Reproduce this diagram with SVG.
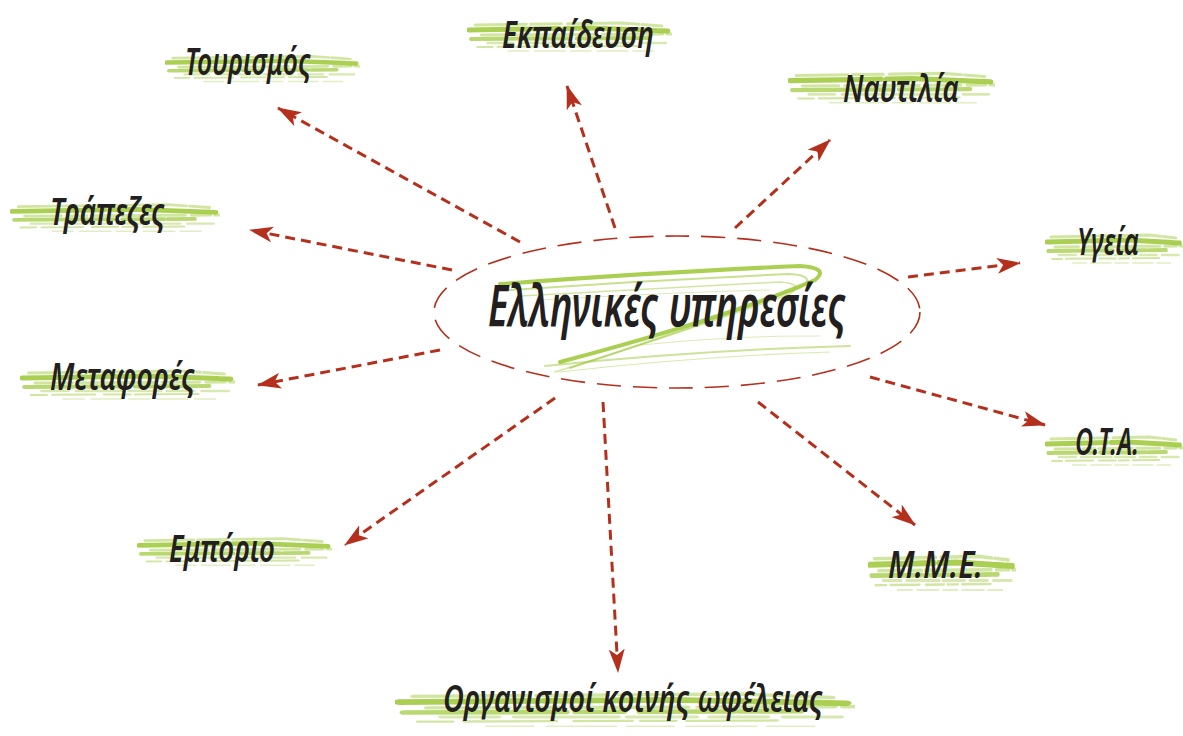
<svg xmlns="http://www.w3.org/2000/svg" width="1183" height="736" viewBox="0 0 1183 736">
<style>
.lbl{font-family:"Noto Sans","DejaVu Sans","Liberation Sans",sans-serif;font-style:italic;font-weight:600;fill:#231f20;}
.conn{fill:none;stroke:#b5301c;stroke-width:3;stroke-dasharray:10 6;}
.ell{fill:none;stroke:#b5301c;stroke-width:1.6;stroke-dasharray:24 12;}
.br{stroke:#9cc735;fill:none;stroke-linecap:round;}
</style>
<defs>
<marker id="ah" markerUnits="userSpaceOnUse" viewBox="0 0 24 16" markerWidth="24" markerHeight="16" refX="23" refY="8" orient="auto">
<path d="M0,0 L24,8 L0,16 L6,8 Z" fill="#b5301c"/>
</marker>
<symbol id="brush" viewBox="0 0 200 40" preserveAspectRatio="none">
<path class="br" d="M8 9 L150 7 L190 10" stroke-width="3" opacity="0.45" stroke-dasharray="50 4 30 6 70 3"/>
<path class="br" d="M2 14 L120 12 L196 15" stroke-width="5" opacity="0.85" stroke-dasharray="60 3 25 5 90 2"/>
<path class="br" d="M14 19 L200 18" stroke-width="3" opacity="0.45" stroke-dasharray="35 6 18 4 50 5"/>
<path class="br" d="M4 23 L176 22" stroke-width="4" opacity="0.7" stroke-dasharray="70 5 20 8 40 3"/>
<path class="br" d="M20 27 L194 27" stroke-width="2.5" opacity="0.4" stroke-dasharray="25 7 45 4 30 6"/>
<path class="br" d="M10 31 L166 30" stroke-width="2" opacity="0.45" stroke-dasharray="15 5 40 8 25 4"/>
<path class="br" d="M40 35 L186 35" stroke-width="1.5" opacity="0.3" stroke-dasharray="20 6 30 5"/>
</symbol>
</defs>
<rect width="1183" height="736" fill="#ffffff"/>

<g id="connectors">
<line class="conn" x1="520" y1="242" x2="278" y2="108" marker-end="url(#ah)"/>
<line class="conn" x1="615" y1="228" x2="567" y2="86" marker-end="url(#ah)"/>
<line class="conn" x1="735" y1="228" x2="830" y2="140" marker-end="url(#ah)"/>
<line class="conn" x1="452" y1="270" x2="250" y2="230" marker-end="url(#ah)"/>
<line class="conn" x1="908" y1="277" x2="1020" y2="263" marker-end="url(#ah)"/>
<line class="conn" x1="440" y1="350" x2="258" y2="385" marker-end="url(#ah)"/>
<line class="conn" x1="870" y1="377" x2="1045" y2="425" marker-end="url(#ah)"/>
<line class="conn" x1="555" y1="398" x2="345" y2="545" marker-end="url(#ah)"/>
<line class="conn" x1="758" y1="402" x2="915" y2="525" marker-end="url(#ah)"/>
<line class="conn" x1="603" y1="402" x2="618" y2="672" marker-end="url(#ah)"/>
</g>

<g id="center">
<ellipse class="ell" cx="677" cy="312" rx="243" ry="76"/>
<g fill="none" stroke="#9cc735" stroke-linecap="round">
<path d="M500 284 Q660 272 800 266 Q830 268 815 280 Q720 320 560 362" stroke-width="4" opacity="0.85"/>
<path d="M510 290 Q650 280 790 274 Q818 276 800 288 Q700 325 570 368" stroke-width="2" opacity="0.55"/>
<path d="M520 296 Q660 288 780 282 Q805 284 790 294 Q690 330 555 372" stroke-width="1.5" opacity="0.45"/>
<path d="M540 300 Q680 292 770 290" stroke-width="1" opacity="0.35"/>
<path d="M545 366 Q700 350 850 346" stroke-width="2" opacity="0.5"/>
<path d="M560 372 Q700 356 830 352" stroke-width="1.2" opacity="0.4"/>
<path d="M640 345 Q740 335 820 336" stroke-width="1" opacity="0.35"/>
</g>
<text class="lbl" x="488" y="326" font-size="58" textLength="358" lengthAdjust="spacingAndGlyphs">Ελληνικές υπηρεσίες</text>
</g>

<g id="n-tourismos">
<use href="#brush" x="165" y="50" width="195" height="36"/>
<text class="lbl" x="185" y="75" font-size="37" textLength="126" lengthAdjust="spacingAndGlyphs">Τουρισμός</text>
</g>
<g id="n-ekpaideusi">
<use href="#brush" x="467" y="16" width="205" height="40"/>
<text class="lbl" x="502" y="48" font-size="37" textLength="152" lengthAdjust="spacingAndGlyphs">Εκπαίδευση</text>
</g>
<g id="n-naftilia">
<use href="#brush" x="788" y="66" width="207" height="42"/>
<text class="lbl" x="843" y="102" font-size="37" textLength="116" lengthAdjust="spacingAndGlyphs">Ναυτιλία</text>
</g>
<g id="n-trapezes">
<use href="#brush" x="10" y="198" width="210" height="38"/>
<text class="lbl" x="50" y="225" font-size="37" textLength="115" lengthAdjust="spacingAndGlyphs">Τράπεζες</text>
</g>
<g id="n-ygeia">
<use href="#brush" x="1045" y="228" width="138" height="40"/>
<text class="lbl" x="1077" y="255" font-size="37" textLength="62" lengthAdjust="spacingAndGlyphs">Υγεία</text>
</g>
<g id="n-metafores">
<use href="#brush" x="20" y="364" width="215" height="40"/>
<text class="lbl" x="50" y="390" font-size="37" textLength="145" lengthAdjust="spacingAndGlyphs">Μεταφορές</text>
</g>
<g id="n-ota">
<use href="#brush" x="1045" y="430" width="138" height="40"/>
<text class="lbl" x="1075" y="455" font-size="37" textLength="64" lengthAdjust="spacingAndGlyphs">Ο.Τ.Α.</text>
</g>
<g id="n-emporio">
<use href="#brush" x="137" y="532" width="195" height="38"/>
<text class="lbl" x="169" y="562" font-size="37" textLength="106" lengthAdjust="spacingAndGlyphs">Εμπόριο</text>
</g>
<g id="n-mme">
<use href="#brush" x="868" y="548" width="148" height="48"/>
<text class="lbl" x="888" y="578" font-size="37" textLength="95" lengthAdjust="spacingAndGlyphs">Μ.Μ.Ε.</text>
</g>
<g id="n-organismoi">
<use href="#brush" x="395" y="686" width="460" height="46"/>
<text class="lbl" x="443" y="712" font-size="37" textLength="380" lengthAdjust="spacingAndGlyphs">Οργανισμοί κοινής ωφέλειας</text>
</g>
</svg>
